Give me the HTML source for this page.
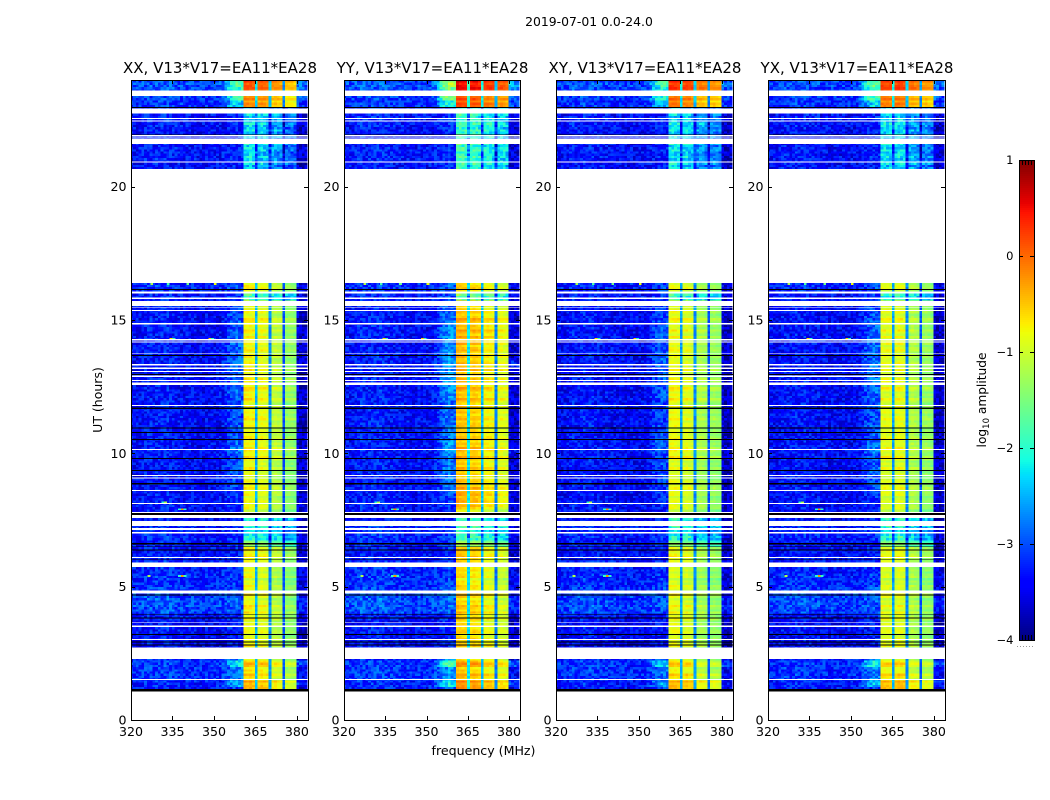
<!DOCTYPE html>
<html lang="en">
<head>
<meta charset="utf-8">
<title>2019-07-01 0.0-24.0</title>
<style>
html,body{margin:0;padding:0;background:#fff;width:1050px;height:800px;overflow:hidden}
svg{display:block}
text{font-family:"DejaVu Sans","Liberation Sans",sans-serif;fill:#000}
</style>
</head>
<body>
<svg id="chart" xmlns="http://www.w3.org/2000/svg" width="1050" height="800" viewBox="0 0 1050 800">
<rect x="0" y="0" width="1050" height="800" fill="#fff"/>
<text x="589" y="26" font-size="12.4" text-anchor="middle">2019-07-01 0.0-24.0</text>
<text transform="translate(102,400) rotate(-90)" font-size="12.5" text-anchor="middle">UT (hours)</text>
<text x="483.5" y="755" font-size="12.6" text-anchor="middle">frequency (MHz)</text>
<text transform="translate(986,400) rotate(-90)" font-size="12.2" text-anchor="middle">log<tspan font-size="8.5" dy="3">10</tspan><tspan dy="-3"> amplitude</tspan></text>
<g id="panels"></g>
<g id="cbar"></g>
</svg>
<script>
/* ---------- chart data ---------- */
const panelTitles = ["XX, V13*V17=EA11*EA28","YY, V13*V17=EA11*EA28","XY, V13*V17=EA11*EA28","YX, V13*V17=EA11*EA28"];
const xTicks = [320,335,350,365,380];
const yTicks = [0,5,10,15,20];
const colorTicks = [1,0,-1,-2,-3,-4];
const colorTickLabels = ["1","0","\u22121","\u22122","\u22123","\u22124"];

/* log10 amplitude of in-band channels 361..379 MHz at reference gain */
const bandXX = [-.8,-.85,-.85,-.9,-2.5, -.95,-.9,-.95,-1.0,-2.7, -1.2,-1.15,-1.2,-1.25,-3.0, -1.45,-1.4,-1.45,-1.5];
const bandYY = [-.55,-.6,-.6,-.65,-2.3, -.7,-.65,-.7,-.75,-2.5, -.9,-.85,-.9,-.95,-2.8, -1.05,-1.0,-1.05,-1.1];
const bandXY = [-.9,-.9,-.9,-.95,-2.6, -1.0,-.95,-1.0,-1.05,-2.7, -1.3,-1.25,-1.3,-1.35,-3.0, -1.4,-1.35,-1.4,-1.45];
const bandYX = [-.95,-.95,-.95,-1.0,-2.6, -.95,-.9,-.95,-1.0,-2.7, -1.25,-1.2,-1.25,-1.3,-3.0, -1.4,-1.35,-1.4,-1.45];
const notchChannels = [365,370,375];

/* gain per quarter hour starting at 1.0 UT */
const gainXX = [.35,.45,.2,.2, .3,.1,0,0, 0,.05,0,.05, .1,.05,0,0, 0,-.05,-.05,0, .1,.1,-.5,-1.2,
 -1.25,-1.2,-1.1,-.1, 0,0,.05,0, -.05,0,0,.05, .15,.1,.05,.05, .05,.1,.05,.05, .1,.1,.05,.1,
 .1,.05,.05,.05, .05,.05,.05,.1, .05,.05,0,-1.0, .1,.1,null,null, null,null,null,null, null,null,null,null, null,null,null,null,
 null,null,-1.5,-1.5, -1.45,-1.45,-1.4,-1.45, -1.45,-1.45,-1.4,-1.4, .6,.8,.9,1.0];
const gainYY = [.3,.4,.15,.1, .25,.1,0,0, 0,.05,0,.05, .1,.05,0,0, -.05,-.1,-.05,0, .1,.1,-.6,-1.3,
 -1.3,-1.25,-1.2,-.1, .2,.25,.2,.1, .05,.1,.1,.1, .2,.15,.1,.1, .1,.1,.1,.1, .15,.15,.1,.15,
 .2,.15,.15,.1, .15,.2,.2,.15, .15,.1,0,-1.0, .05,.05,null,null, null,null,null,null, null,null,null,null, null,null,null,null,
 null,null,-1.3,-1.3, -1.3,-1.25,-1.3,-1.3, -1.3,-1.3,-1.3,-1.3, .7,.85,1.1,1.15];
const gainXY = [.35,.5,.25,.15, .25,.1,0,0, 0,.05,0,.05, .05,.05,0,0, 0,-.05,-.05,0, .1,.1,-.5,-1.15,
 -1.2,-1.15,-1.1,-.1, 0,0,.05,0, -.05,0,0,.05, .15,.1,.05,.05, .05,.05,.05,.05, .1,.1,.05,.05,
 .1,.05,.05,.05, .05,.05,.05,.05, .05,.05,0,-1.0, .05,.05,null,null, null,null,null,null, null,null,null,null, null,null,null,null,
 null,null,-1.35,-1.35, -1.35,-1.35,-1.35,-1.35, -1.35,-1.35,-1.35,-1.35, .75,.95,1.15,1.2];
const gainYX = [.4,.5,.25,.15, .25,.1,0,0, 0,.05,0,.05, .05,.05,0,0, 0,-.05,-.05,0, .1,.1,-.5,-1.15,
 -1.2,-1.15,-1.1,-.1, 0,0,.05,0, -.05,0,0,.05, .1,.1,.05,.05, .05,.05,.05,.05, .05,.05,.05,.05,
 .05,.05,.05,.05, .05,.05,.05,.05, .05,.05,0,-1.0, .05,.05,null,null, null,null,null,null, null,null,null,null, null,null,null,null,
 null,null,-1.35,-1.35, -1.35,-1.35,-1.35,-1.35, -1.35,-1.35,-1.35,-1.35, .75,.95,1.15,1.2];

/* out-of-band floor per quarter hour */
const floorLevel = [-3.15,-3.1,-3,-3, -3,-3.1,-3.25,-3.25, -3.25,-3.2,-3.25,-3.2, -2.9,-2.85,-2.85,-3.0, -3.05,-3.05,-3.1,-3.1, -3.2,-3.2,-3.15,-3.1,
 -3.1,-3.1,-3.2,-3.2, -3.2,-3.2,-3.2,-3.2, -3.2,-3.2,-3.2,-3.2, -3.2,-3.2,-3.2,-3.2, -3.2,-3.2,-3.2,-3.2, -3.2,-3.2,-3.2,-3.2,
 -3.2,-3.2,-3.2,-3.2, -3.2,-3.2,-3.2,-3.2, -3.2,-3.2,-3.15,-3.15, -3.05,-3.05,null,null, null,null,null,null, null,null,null,null, null,null,null,null,
 null,null,-3.2,-3.2, -3.15,-3.15,-3.2,-3.2, -3.2,-3.15,-3.15,-3.15, -3,-2.95,-2.9,-2.85];
const floorShiftByPanel = [-.2,-.18,-.22,-.22];

/* rise of the band edge shoulder (350-360 MHz) per quarter hour */
const shoulder = [.2,.8,.4,.4, 1.0,.5,.1,.1, .1,.1,.1,.1, .1,.1,.1,.15, .1,.1,.1,.1, .1,.1,.1,.1,
 .1,.1,.1,.1, .15,.2,.3,.35, .4,.5,.4,.4, .6,.5,.4,.4, .4,.35,.35,.35, .45,.5,.5,.5,
 .5,.6,.5,.5, .5,.5,.45,.45, .4,.3,.2,.2, .2,.2,null,null, null,null,null,null, null,null,null,null, null,null,null,null,
 null,null,.1,.1, .1,.1,.1,.1, .1,.1,.1,.1, .8,1.2,1.1,1.3];
const shoulderScaleByPanel = [1,1.4,.9,1.1];

/* amplitude offset per out-of-band channel, 320..383 MHz */
const channelRipple = [-.02,.02,0,.03,.05,.1,.14,.1,.06,.12,.16,.1,.14,.18,.1,.12,.08,.04,.06,.02,
 .03,.02,0,.02,0,.01,-.02,0,-.02,0,-.02,0, 0,.02,0,.03,.02,.04,.02,.03,.02,
 0,0,0,0,0,0,0,0,0,0,0,0,0,0,0,0,0,0,0,
 -.22,-.25,-.22,-.25];
const shoulderShape = [.05,.15,.35,.6,.8,.9,1,1,1];
const trailShape = [.45,.35,.3,.3];

/* fine grain estimated from the speckle of the picture */
const speckle = [.22,-.28,.05,.3,-.12,-.34,.16,-.05,.26,-.22,.1,-.3,.34,-.08,-.18,.2,-.26,.06,.28,-.36,.14,-.1,.24,-.2,
 .02,-.32,.3,.08,-.16,.18,-.24,.36,-.06,-.3,.12,.2,-.14,-.22,.28,-.02,.1,-.34,.22,-.12,.04,.32,-.26];
const streak = [.05,-.1,.12,0,-.06,.16,-.12,.04,.2,-.08,.02,-.14,.1,.22,-.04,-.12,.06,.14,-.1,.02,-.16,.18,.08,-.06,.12,-.02,-.12,.1,.04,-.08,.16];

/* flagged time ranges (white) and zero-valued records (black), UT hours */
const flagStart = [0,1.50,2.28,3.00,3.49,3.63,4.74,5.74,6.08,7.00,7.13,7.28,7.58,7.76,8.10,8.59,9.05,9.15,10.13,11.78,12.56,12.71,12.87,13.05,13.17,13.30,13.72,14.15,14.24,14.84,15.34,15.46,15.53,15.78,16.00,16.38,20.90,21.60,21.84,21.90,22.44,22.53,22.74,23.40];
const flagEnd = [1.06,1.53,2.71,3.04,3.54,3.66,4.86,5.90,6.12,7.05,7.20,7.47,7.68,7.80,8.14,8.63,9.09,9.19,10.16,11.81,12.66,12.75,12.91,13.09,13.21,13.35,13.75,14.19,14.28,14.88,15.38,15.49,15.72,15.84,16.06,20.66,20.94,21.80,21.88,21.94,22.49,22.58,22.93,23.60];
const zeroStart = [1.06,2.80,2.90,3.18,3.81,3.93,4.66,6.00,6.35,6.48,6.59,7.68,8.84,9.34,9.78,10.50,10.76,10.94,11.67,12.94,13.65,16.13,21.95,22.95];
const zeroEnd = [1.17,2.84,2.94,3.23,3.85,3.96,4.70,6.02,6.39,6.50,6.63,7.76,8.88,9.38,9.83,10.53,10.80,10.96,11.71,12.98,13.69,16.16,21.98,22.99];

/* narrow interference hits */
const hitTime = [14.29,14.29,14.29,14.29,7.91,7.91,7.91,8.17,8.17,5.4,5.4,5.4,5.4,16.35,16.35,16.35,16.35];
const hitFreq = [334,335,348,349,337,338,339,331,332,326,337,338,339,327,333,340,350];
const hitValue = [-.6,-2,-.5,-2,-2,-.2,-2,-2,-1.2,-1.2,-2,-.2,-2,-1.2,-1.8,-1.6,-.8];

/* ---------- axes ---------- */
const SVGNS = "http://www.w3.org/2000/svg";
const panelLeft = [131,344,556,768];
const panelWidths = [177,176,177,177];
const plotTop = 80, plotBottom = 720;
const freqMin = 320, freqMax = 384, utMin = 0, utMax = 24;
function xScale(p, f){ return panelLeft[p] + (f - freqMin) / (freqMax - freqMin) * panelWidths[p]; }
function yScale(t){ return plotBottom - (t - utMin) / (utMax - utMin) * (plotBottom - plotTop); }
function cbarY(v){ return 160 + (1 - v) / 5 * 480; }

function lerp(xs, ys, t){
  for (let i = 1; i < xs.length; i++) {
    if (t <= xs[i]) return ys[i-1] + (ys[i] - ys[i-1]) * (t - xs[i-1]) / (xs[i] - xs[i-1]);
  }
  return ys[ys.length-1];
}
function jet(v){
  const t = Math.max(0, Math.min(1, (v + 4) / 5));
  const r = lerp([0,.35,.66,.89,1],[0,0,1,1,.5],t);
  const g = lerp([0,.125,.375,.64,.91,1],[0,0,1,1,0,0],t);
  const b = lerp([0,.11,.34,.65,1],[.5,1,1,0,0],t);
  return "rgb(" + Math.round(r*255) + "," + Math.round(g*255) + "," + Math.round(b*255) + ")";
}
function mk(tag, attrs, parent){
  const e = document.createElementNS(SVGNS, tag);
  for (const k in attrs) e.setAttribute(k, attrs[k]);
  parent.appendChild(e);
  return e;
}

const bands = [bandXX, bandYY, bandXY, bandYX];
const gains = [gainXX, gainYY, gainXY, gainYX];
const binHours = 0.25, subRows = 3, firstHour = 1.0;

function grain(freq, rowKey, p){
  return speckle[(freq * freq * 3 + rowKey * rowKey * 5 + freq * rowKey + p * 19) % speckle.length];
}
function cellValue(p, bin, sub, freq){
  const g = gains[p][bin];
  if (g === null || g === undefined) return null;
  const rowKey = bin * subRows + sub;
  const band = bands[p];
  const ci = freq - 361;
  if (ci >= 0 && ci < band.length) {
    const isNotch = notchChannels.indexOf(freq) >= 0;
    const sp = grain(freq, rowKey, p) * (g < -0.8 ? 0.9 : 0.25);
    if (isNotch) return band[ci] + g * 0.35 + sp * 1.5;
    return band[ci] + g + streak[rowKey % streak.length] + sp;
  }
  let v = floorLevel[bin] + floorShiftByPanel[p] + channelRipple[freq - freqMin];
  v += grain(freq, rowKey, p);
  const s = shoulder[bin] * shoulderScaleByPanel[p];
  if (freq >= 352 && freq <= 360) v += s * shoulderShape[freq - 352];
  if (freq >= 380) v += (s > 0.7 ? s : 0) * trailShape[freq - 380];
  return v;
}
function inFlag(t0, t1){
  for (let i = 0; i < flagStart.length; i++) if (t0 >= flagStart[i] && t1 <= flagEnd[i]) return true;
  return false;
}

const panelsRoot = document.getElementById("panels");
panelTitles.forEach(function(title, p){
  const panelWidth = panelWidths[p];
  const g = mk("g", {}, panelsRoot);
  
  

  const cells = mk("g", {"shape-rendering":"crispEdges"}, g);
  
  

  const nBins = gains[p].length;
  const rowH = binHours / subRows;
  for (let bin = 0; bin < nBins; bin++) {
    for (let sub = 0; sub < subRows; sub++) {
      const t0 = firstHour + bin * binHours + sub * rowH;
      const t1 = t0 + rowH;
      if (inFlag(t0, t1)) continue;
      const yTop = yScale(t1), yBot = yScale(t0);
      for (let f = freqMin; f < freqMax; f++) {
        const v = cellValue(p, bin, sub, f);
        if (v === null) continue;
        const x0 = Math.max(xScale(p, f - 0.25), panelLeft[p]);
        const x1 = Math.min(xScale(p, f + 0.75), panelLeft[p] + panelWidth);
        const r = mk("rect", {x:x0.toFixed(2), y:yTop.toFixed(2), width:(x1-x0+0.4).toFixed(2), height:(yBot-yTop+0.4).toFixed(2), fill:jet(v)}, cells);
        
        
      }
    }
  }

  hitTime.forEach(function(t, i){
    const r = mk("rect", {x:xScale(p,hitFreq[i]).toFixed(2), y:yScale(t+0.03).toFixed(2), width:2.77, height:1.6, fill:jet(hitValue[i])}, cells);
    
    
  });
  zeroStart.forEach(function(t, i){
    const r = mk("rect", {x:panelLeft[p], y:yScale(zeroEnd[i]).toFixed(2), width:panelWidth, height:(yScale(t)-yScale(zeroEnd[i])).toFixed(2), fill:"#000"}, cells);
    
    
  });
  flagStart.forEach(function(t, i){
    const r = mk("rect", {x:panelLeft[p], y:yScale(flagEnd[i]).toFixed(2), width:panelWidth, height:(yScale(t)-yScale(flagEnd[i])).toFixed(2), fill:"#fff"}, cells);
    
    
  });

  const frame = mk("rect", {x:panelLeft[p]+.5, y:plotTop+.5, width:panelWidth, height:plotBottom-plotTop, fill:"none", stroke:"#000", "stroke-width":1, "shape-rendering":"crispEdges"}, g);
  
  

  xTicks.forEach(function(f){
    const x = Math.round(xScale(p,f)) + .5;
    const tb = mk("line", {x1:x, x2:x, y1:plotBottom, y2:plotBottom-4, stroke:"#000"}, g);
    
    
    const tt = mk("line", {x1:x, x2:x, y1:plotTop, y2:plotTop+4, stroke:"#000"}, g);
    
    
    const l = mk("text", {x:xScale(p,f), y:736, "font-size":12.6, "text-anchor":"middle"}, g);
    
    
    l.textContent = f;
  });
  yTicks.forEach(function(t){
    const y = Math.round(yScale(t)) + .5;
    const tl = mk("line", {x1:panelLeft[p], x2:panelLeft[p]+4, y1:y, y2:y, stroke:"#000"}, g);
    
    
    const tr = mk("line", {x1:panelLeft[p]+panelWidth, x2:panelLeft[p]+panelWidth-4, y1:y, y2:y, stroke:"#000"}, g);
    
    
    const l = mk("text", {x:panelLeft[p]-4.5, y:yScale(t)+4.5, "font-size":12.6, "text-anchor":"end"}, g);
    
    
    l.textContent = t;
  });
  const tl = mk("text", {x:panelLeft[p]+panelWidth/2+.5, y:73, "font-size":15, "text-anchor":"middle"}, g);
  
  
  tl.textContent = title;
});

/* ---------- colorbar ---------- */
const cbarRoot = document.getElementById("cbar");
const cbarX = 1019, cbarW = 15;
for (let py = 160; py < 640; py += 2) {
  const v = 1 - (py + 1 - 160) / 480 * 5;
  const r = mk("rect", {x:cbarX, y:py, width:cbarW, height:2.3, fill:jet(v), "shape-rendering":"crispEdges"}, cbarRoot);
  
  
}
const cf = mk("rect", {x:cbarX+.5, y:160.5, width:cbarW, height:480, fill:"none", stroke:"#000", "shape-rendering":"crispEdges"}, cbarRoot);


colorTicks.forEach(function(v, i){
  const y = Math.round(cbarY(v)) + .5;
  const a = mk("line", {x1:cbarX, x2:cbarX+4, y1:y, y2:y, stroke:"#000"}, cbarRoot);
  
  
  const b = mk("line", {x1:cbarX+cbarW-4, x2:cbarX+cbarW, y1:y, y2:y, stroke:"#000"}, cbarRoot);
  
  
  const l = mk("text", {x:1013.5, y:cbarY(v)+4, "font-size":11.5, "text-anchor":"end"}, cbarRoot);
  
  
  l.textContent = colorTickLabels[i];
});
for (let i = 1; i <= 4; i++) {
  const x = cbarX + i * 3 + .5;
  const a = mk("line", {x1:x, x2:x, y1:160, y2:165, stroke:"#000"}, cbarRoot);
  
  
  const b = mk("line", {x1:x, x2:x, y1:635, y2:640, stroke:"#000"}, cbarRoot);
  
  
}
const dots = mk("line", {x1:1017, x2:1035, y1:646.5, y2:646.5, stroke:"#999", "stroke-dasharray":"1 2"}, cbarRoot);


</script>
</body>
</html>
